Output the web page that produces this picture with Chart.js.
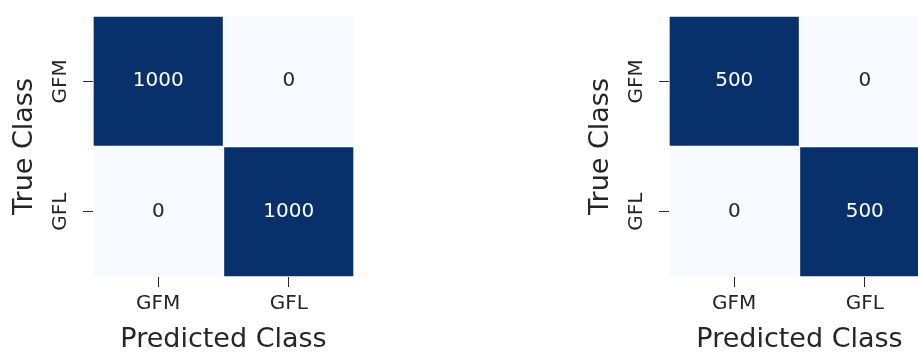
<!DOCTYPE html>
<html>
<head>
<meta charset="utf-8">
<script src="https://cdn.jsdelivr.net/npm/chart.js@4.4.1/dist/chart.umd.min.js"></script>
<style>
  html, body { margin: 0; padding: 0; background: #fff; }
  body { width: 918px; height: 352px; overflow: hidden; position: relative; }
  canvas { position: absolute; top: 0; }
</style>
</head>
<body>
<canvas id="cmTrain" width="380" height="352" style="left:0; width:380px; height:352px"></canvas>
<canvas id="cmTest" width="380" height="352" style="left:576px; width:380px; height:352px"></canvas>
<script>
const classLabels = ['GFM', 'GFL'];
// rows = true class, columns = predicted class
const trainCounts = [
  [1000, 0],
  [0, 1000],
];
const testCounts = [
  [500, 0],
  [0, 500],
];

// matplotlib "Blues"
const blues = ['#f7fbff', '#deebf7', '#c6dbef', '#9ecae1', '#6baed6', '#4292c6', '#2171b5', '#08519c', '#08306b'];
const ink = '#262626';

Chart.defaults.font.family = '"DejaVu Sans", sans-serif';
Chart.defaults.color = ink;

function hexToRgb(h) {
  const n = parseInt(h.slice(1), 16);
  return [(n >> 16) & 255, (n >> 8) & 255, n & 255];
}

function blueAt(t) {
  const n = blues.length - 1;
  const p = Math.min(Math.max(t, 0), 1) * n;
  const i = Math.min(Math.floor(p), n - 1);
  const f = p - i;
  const a = hexToRgb(blues[i]);
  const b = hexToRgb(blues[i + 1]);
  return a.map((v, k) => Math.round(v + (b[k] - v) * f));
}

function luminance(rgb) {
  const c = rgb.map(v => {
    v /= 255;
    return v <= 0.03928 ? v / 12.92 : Math.pow((v + 0.055) / 1.055, 2.4);
  });
  return 0.2126 * c[0] + 0.7152 * c[1] + 0.0722 * c[2];
}

// writes each count in the middle of its cell
const cellText = {
  id: 'cellText',
  afterDatasetsDraw(chart, args, opts) {
    const ctx = chart.ctx;
    const counts = opts.counts;
    const max = Math.max(...counts.flat());
    ctx.save();
    ctx.font = '20px "DejaVu Sans"';
    ctx.textAlign = 'center';
    ctx.textBaseline = 'middle';
    chart.data.datasets.forEach((ds, r) => {
      chart.getDatasetMeta(r).data.forEach((bar, c) => {
        const v = counts[r][c];
        ctx.fillStyle = luminance(blueAt(v / max)) > 0.408 ? ink : '#ffffff';
        ctx.fillText(String(v), bar.x, (bar.y + bar.base) / 2);
      });
    });
    ctx.restore();
  }
};

function makeMatrix(id, counts) {
  const max = Math.max(...counts.flat());
  // one stacked bar per true-class row, each one unit tall
  const datasets = counts.map((row, r) => ({
    label: classLabels[r],
    data: row.map(() => 1),
    backgroundColor: row.map(v => 'rgb(' + blueAt(v / max).join(',') + ')'),
    borderColor: 'rgba(255,255,255,0.15)',
    borderWidth: 1,
    borderSkipped: false,
    barPercentage: 1,
    categoryPercentage: 1,
  }));

  const titleFont = { size: 27, lineHeight: 0.9 };

  return new Chart(document.getElementById(id), {
    type: 'bar',
    data: { labels: classLabels, datasets },
    plugins: [cellText],
    options: {
      responsive: false,
      animation: false,
      layout: { padding: { left: 0, top: 16, right: 26, bottom: 0 } },
      plugins: {
        legend: { display: false },
        tooltip: { enabled: false },
        cellText: { counts },
      },
      scales: {
        x: {
          stacked: true,
          grid: { offset: false, drawOnChartArea: false, tickLength: 10, tickColor: ink, tickWidth: 1 },
          border: { display: false },
          ticks: { font: { size: 20 }, color: ink, padding: 5, maxRotation: 0 },
          title: { display: true, text: 'Predicted Class', font: titleFont, color: ink, padding: { top: 0, bottom: 0 } },
          afterFit(scale) { scale.height = 75; },
        },
        y: {
          stacked: true,
          reverse: true,
          min: 0,
          max: classLabels.length,
          afterBuildTicks(scale) {
            scale.ticks = classLabels.map((_, i) => ({ value: i + 0.5 }));
          },
          grid: { drawOnChartArea: false, tickLength: 10, tickColor: ink, tickWidth: 1 },
          border: { display: false },
          ticks: {
            font: { size: 20 },
            color: ink,
            padding: 0,
            minRotation: 90,
            maxRotation: 90,
            crossAlign: 'center',
            callback: (value, index) => classLabels[index],
          },
          title: { display: true, text: 'True Class', font: titleFont, color: ink, padding: { top: 13, bottom: 0 } },
          afterFit(scale) { scale.width = 93; },
        },
      },
    },
  });
}

makeMatrix('cmTrain', trainCounts);
makeMatrix('cmTest', testCounts);
</script>
</body>
</html>
